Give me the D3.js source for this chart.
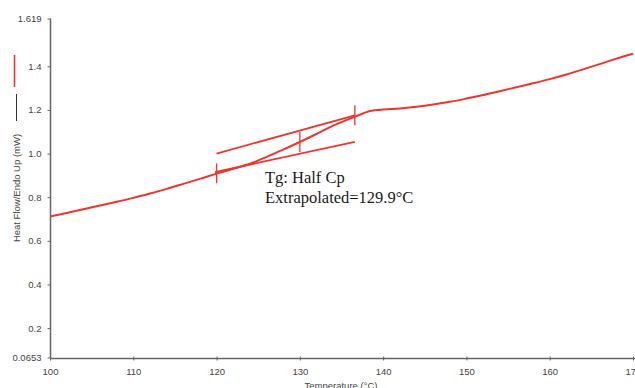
<!DOCTYPE html>
<html><head><meta charset="utf-8">
<script src="https://cdn.jsdelivr.net/npm/d3@7"></script>
<style>html,body{margin:0;padding:0;background:#fff;}svg{display:block;}</style>
</head><body>
<svg id="c" width="635" height="388"></svg>
<script>
// ---- data ----
const temps = [100,102,104,106,108,110,112,114,116,118,120,122,124,126,128,130,132,134,136,137,138,139,140,142,144,146,148,150,152,154,156,158,160,162,164,166,168,170];
const heatFlow = [0.712,0.728,0.745,0.762,0.779,0.797,0.817,0.838,0.861,0.884,0.908,0.930,0.953,0.985,1.018,1.053,1.090,1.128,1.160,1.175,1.190,1.198,1.202,1.207,1.215,1.225,1.237,1.252,1.268,1.286,1.304,1.322,1.341,1.362,1.386,1.410,1.435,1.458];
const upperTangentT = [120, 136.6];
const upperTangentV = [1.000, 1.175];
const lowerTangentT = [119.8, 136.6];
const lowerTangentV = [0.915, 1.053];
const markerT = [120, 130, 136.6];
const markerLow = [0.864, 1.007, 1.130];
const markerHigh = [0.955, 1.099, 1.221];
const xTicks = [100,110,120,130,140,150,160,170];
const yTicks = [0.0653,0.2,0.4,0.6,0.8,1.0,1.2,1.4,1.619];
const yTickLabels = ["0.0653","0.2","0.4","0.6","0.8","1.0","1.2","1.4","1.619"];
const annotation = ["Tg: Half Cp","Extrapolated=129.9°C"];
const xTitle = "Temperature (°C)";
const yTitle = "Heat Flow/Endo Up (mW)";

// ---- chart ----
const svg = d3.select("#c");
const x = d3.scaleLinear().domain([100,170]).range([50,633]);
const y = d3.scaleLinear().domain([0.0653,1.619]).range([357.5,18.5]);
const red = "#f0342c";
const axisCol = "#666";
const font = "Arial, 'Liberation Sans', sans-serif";

// y axis
const yAxis = svg.append("g").attr("transform","translate(50.5,0)")
  .call(d3.axisLeft(y).tickValues(yTicks).tickFormat((d,i)=>yTickLabels[i]).tickSize(3).tickPadding(6));
yAxis.select(".domain").attr("stroke",axisCol).attr("stroke-width",1.5).attr("d","M0,18.5V358.5");
yAxis.selectAll(".tick line").attr("stroke",axisCol);
yAxis.selectAll(".tick text").attr("fill","#444").style("font-family",font).style("font-size","9.5px");

// x axis
const xAxis = svg.append("g").attr("transform","translate(0,358.5)")
  .call(d3.axisBottom(x).tickValues(xTicks).tickSize(2).tickPadding(8));
xAxis.select(".domain").attr("stroke",axisCol).attr("stroke-width",1.5).attr("d","M50,0H635");
xAxis.selectAll(".tick line").attr("stroke",axisCol).attr("y1",-2);
xAxis.selectAll(".tick text").attr("fill","#444").style("font-family",font).style("font-size","9.5px");

// axis titles
svg.append("text").attr("x",341).attr("y",389).attr("text-anchor","middle")
  .attr("fill","#444").style("font-family",font).style("font-size","9.5px").text(xTitle);
svg.append("text").attr("transform","translate(20,188) rotate(-90)").attr("text-anchor","middle")
  .attr("fill","#444").style("font-family",font).style("font-size","9.5px").text(yTitle);
// legend marks beside y title
svg.append("line").attr("x1",14.5).attr("x2",14.5).attr("y1",55).attr("y2",87).attr("stroke",red).attr("stroke-width",1.6);
svg.append("line").attr("x1",16.5).attr("x2",16.5).attr("y1",94).attr("y2",121).attr("stroke","#333").attr("stroke-width",1);

// data curve
const line = d3.line().x((d,i)=>x(temps[i])).y(d=>y(d)).curve(d3.curveMonotoneX);
svg.append("path").attr("d",line(heatFlow)).attr("fill","none").attr("stroke",red).attr("stroke-width",2);

// tangents
const tl = d3.line().x(d=>x(d[0])).y(d=>y(d[1]));
svg.append("path").attr("d",tl(upperTangentT.map((t,i)=>[t,upperTangentV[i]]))).attr("stroke",red).attr("stroke-width",1.8).attr("fill","none");
svg.append("path").attr("d",tl(lowerTangentT.map((t,i)=>[t,lowerTangentV[i]]))).attr("stroke",red).attr("stroke-width",1.8).attr("fill","none");
// markers
svg.selectAll("line.mk").data(markerT).enter().append("line").attr("class","mk")
  .attr("x1",d=>x(d)).attr("x2",d=>x(d))
  .attr("y1",(d,i)=>y(markerLow[i])).attr("y2",(d,i)=>y(markerHigh[i]))
  .attr("stroke",red).attr("stroke-width",1.3);

// annotation
svg.selectAll("text.ann").data(annotation).enter().append("text").attr("class","ann")
  .attr("x",265).attr("y",(d,i)=>183+i*20)
  .attr("fill","#1a1a1a").style("font-family","'Liberation Serif','Times New Roman',serif").style("font-size","16.5px")
  .text(d=>d);
</script>
</body></html>
